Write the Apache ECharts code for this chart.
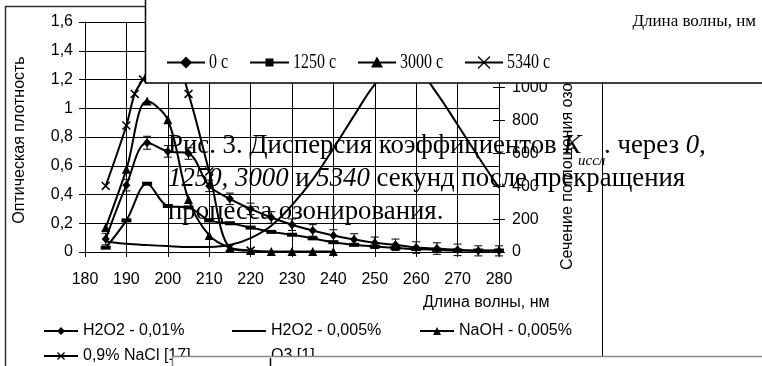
<!DOCTYPE html>
<html><head><meta charset="utf-8">
<script src="https://cdn.jsdelivr.net/npm/echarts@6/dist/echarts.min.js"></script>
<style>html,body{margin:0;padding:0;background:#fff}#c{width:762px;height:366px}</style>
</head><body><div id="c"></div>
<script>
// ---- tick labels ----
const leftTickLabels = ['0','0,2','0,4','0,6','0,8','1','1,2','1,4','1,6'];
const rightTickLabels = ['0','200','400','600','800','1000','1200','1400'];
const xTickLabels = ['180','190','200','210','220','230','240','250','260','270','280'];

// ---- series: H2O2 - 0,01% (with error bars) ----
const wlH2O2a = [185,190,195,200,205,210,215,220,225,230,235,240,245,250,255,260,265,270,275,280];
const valH2O2a = [0.09,0.465,0.76,0.70,0.685,0.46,0.37,0.30,0.24,0.19,0.15,0.115,0.087,0.064,0.05,0.031,0.024,0.015,0.008,0.008];
const errH2O2a = [0.04,0.04,0.045,0.04,0.04,0.04,0.04,0.04,0.04,0.04,0.04,0.04,0.04,0.04,0.04,0.04,0.04,0.04,0.035,0.035];

// ---- series: H2O2 - 0,005% ----
const wlH2O2b = [185,190,195,200,205,210,215,220,225,230,235,240,245,250,255,260,265,270,275,280];
const valH2O2b = [0.03,0.22,0.475,0.32,0.31,0.22,0.20,0.17,0.14,0.12,0.095,0.068,0.05,0.038,0.028,0.02,0.015,0.01,0.01,0.01];

// ---- series: NaOH - 0,005% ----
const wlNaOH = [185,190,195,200,205,210,215,220,225,230,235,240];
const valNaOH = [0.17,0.575,1.05,0.92,0.365,0.115,0.03,0.01,0.004,0.004,0.004,0.004];

// ---- series: 0,9% NaCl [17] ----
const wlNaCl = [185,190,192,194,200,205,210,215,220];
const valNaCl = [0.46,0.88,1.10,1.20,1.50,1.10,0.56,0.03,0.01];

// ---- series: O3 [1] (right axis) ----
const wlO3 = [185,190,195,200,205,210,215,220,225,230,235,240,245,250,255,260,265,270,275,280];
const valO3 = [64,50,42,36,31,31,42,85,160,285,440,630,830,1020,1140,1120,965,775,580,390];

const zip = (xs, ys) => xs.map((x, i) => [x, ys[i]]);
const FS = '"Liberation Sans", Arial, sans-serif';
const SERIF = '"Liberation Serif", "Times New Roman", serif';
const BLK = '#000';
const CAP = 26.8;

const chart = echarts.init(document.getElementById('c'), null, {renderer: 'canvas'});

const lineBase = (name, data, extra) => Object.assign({
  name, type: 'line', data, smooth: 0.35,
  lineStyle: {color: BLK, width: 2}, itemStyle: {color: BLK},
  emphasis: {disabled: true}, z: 5
}, extra);

const xMark = 'path://M0,1.2L1.2,0L10,8.8L8.8,10Z M8.8,0L10,1.2L1.2,10L0,8.8Z';

// overlay legend (top box) items
function topLegendItem(x1, x2, label, marker) {
  const cy = 62.5, cx = (x1 + x2) / 2;
  const els = [{type: 'line', z: 101, shape: {x1, y1: cy, x2, y2: cy}, style: {stroke: BLK, lineWidth: 2}}];
  if (marker === 'diamond') els.push({type: 'polygon', z: 102, shape: {points: [[cx, cy-6],[cx+6, cy],[cx, cy+6],[cx-6, cy]]}, style: {fill: BLK}});
  if (marker === 'square') els.push({type: 'rect', z: 102, shape: {x: cx-4, y: cy-4, width: 8, height: 8}, style: {fill: BLK}});
  if (marker === 'triangle') els.push({type: 'polygon', z: 102, shape: {points: [[cx, cy-6],[cx+6, cy+5],[cx-6, cy+5]]}, style: {fill: BLK}});
  if (marker === 'x') {
    els.push({type: 'line', z: 102, shape: {x1: cx-6, y1: cy-6, x2: cx+6, y2: cy+6}, style: {stroke: BLK, lineWidth: 1.2}});
    els.push({type: 'line', z: 102, shape: {x1: cx+6, y1: cy-6, x2: cx-6, y2: cy+6}, style: {stroke: BLK, lineWidth: 1.2}});
  }
  els.push({type: 'text', z: 102, x: x2 + 4, y: cy, scaleX: 0.8,
    style: {text: label, x: 0, y: 0, fill: BLK, font: '20px ' + SERIF, align: 'left', verticalAlign: 'middle'}});
  return els;
}

const richCap = {n: {fontSize: CAP, fontFamily: SERIF, fill: BLK}, i: {fontSize: CAP, fontFamily: SERIF, fontStyle: 'italic', fill: BLK}};

const graphics = [
  // outer frame of the figure
  {type: 'polyline', z: 50, shape: {points: [[5.5, 370],[5.5, 6.5],[146, 6.5]]}, style: {stroke: '#333', lineWidth: 1.5, fill: 'none'}},
  {type: 'line', z: 50, shape: {x1: 602.5, y1: 83, x2: 602.5, y2: 356}, style: {stroke: BLK, lineWidth: 1}},
  // axis titles
  {type: 'text', z: 10, x: 19.5, y: 140, rotation: Math.PI / 2,
    style: {text: 'Оптическая плотность', x: 0, y: 0, fill: BLK, font: '16px ' + FS, align: 'center', verticalAlign: 'middle'}},
  {type: 'text', z: 10, x: 568, y: 270, rotation: Math.PI / 2,
    style: {text: 'Сечение поглощения озона, 10^-20 см2', x: 0, y: 0, fill: BLK, font: '16px ' + FS, align: 'left', verticalAlign: 'middle'}},
  {type: 'text', z: 10, x: 423, y: 303,
    style: {text: 'Длина волны, нм', x: 0, y: 0, fill: BLK, font: '16px ' + FS, align: 'left', verticalAlign: 'middle'}},
  // caption
  {type: 'text', z: 60, x: 168, y: 145.5,
    style: {text: '{n|Рис. 3. Дисперсия коэффициентов }{i|K}', x: 0, y: 0, fill: BLK, align: 'left', verticalAlign: 'middle', rich: richCap}},
  {type: 'text', z: 60, x: 578, y: 161,
    style: {text: 'иссл', x: 0, y: 0, fill: BLK, font: 'italic 15px ' + SERIF, align: 'left', verticalAlign: 'middle'}},
  {type: 'text', z: 60, x: 604, y: 145.5,
    style: {text: '{n|. через }{i|0,}', x: 0, y: 0, fill: BLK, align: 'left', verticalAlign: 'middle', rich: richCap}},
  {type: 'text', z: 60, x: 168, y: 178.5,
    style: {text: '{i|1250, 3000}{n| и }{i|5340}{n| секунд после прекращения}', x: 0, y: 0, fill: BLK, align: 'left', verticalAlign: 'middle', rich: richCap}},
  {type: 'text', z: 60, x: 168, y: 211.5,
    style: {text: 'процесса озонирования.', x: 0, y: 0, fill: BLK, font: CAP + 'px ' + SERIF, align: 'left', verticalAlign: 'middle'}},
  // top overlay box
  {type: 'rect', z: 100, shape: {x: 145.5, y: -5, width: 640, height: 88}, style: {fill: '#fff', stroke: BLK, lineWidth: 1.5}},
  {type: 'text', z: 102, x: 756, y: 22, style: {text: 'Длина волны, нм', x: 0, y: 0, fill: BLK, font: '17px ' + SERIF, align: 'right', verticalAlign: 'middle'}},
  ...topLegendItem(167, 205, '0 c', 'diamond'),
  ...topLegendItem(250, 289, '1250 c', 'square'),
  ...topLegendItem(358, 396, '3000 c', 'triangle'),
  ...topLegendItem(465, 503, '5340 c', 'x'),
  // bottom overlay box
  {type: 'rect', z: 100, shape: {x: 172.5, y: 356.5, width: 620, height: 20}, style: {fill: '#fff', stroke: '#888', lineWidth: 1.5}},
  {type: 'line', z: 101, shape: {x1: 270.5, y1: 358, x2: 270.5, y2: 366}, style: {stroke: BLK, lineWidth: 1.5}}
];

const legendText = {fontSize: 16, fontFamily: FS, color: BLK, width: 140, lineHeight: 18};

const option = {
  animation: false,
  backgroundColor: '#fff',
  grid: {left: 85, right: 263, top: 22, bottom: 114, containLabel: false, outerBoundsMode: 'none'},
  xAxis: {
    type: 'value', min: 180, max: 280, interval: 10,
    axisLine: {show: true, lineStyle: {color: BLK, width: 1}},
    axisTick: {show: true, length: 5, lineStyle: {color: BLK}},
    splitLine: {show: true, lineStyle: {color: BLK, width: 1}},
    axisLabel: {formatter: (v, i) => xTickLabels[i], fontSize: 16, fontFamily: FS, color: BLK, margin: 20}
  },
  yAxis: [
    {type: 'value', min: 0, max: 1.6, interval: 0.2,
      axisLine: {show: true, lineStyle: {color: BLK, width: 1}},
      axisTick: {show: true, length: 6, lineStyle: {color: BLK}},
      splitLine: {show: true, lineStyle: {color: BLK, width: 1}},
      axisLabel: {formatter: (v, i) => leftTickLabels[i], fontSize: 16, fontFamily: FS, color: BLK, margin: 12}},
    {type: 'value', position: 'right', min: 0, max: 1400, interval: 200,
      axisLine: {show: true, lineStyle: {color: BLK, width: 1}},
      axisTick: {show: true, length: 6, lineStyle: {color: BLK}},
      splitLine: {show: false},
      axisLabel: {formatter: (v, i) => rightTickLabels[i], fontSize: 16, fontFamily: FS, color: BLK, margin: 13}},
    {type: 'value', position: 'right', min: 0, max: 1400, interval: 200,
      axisLine: {show: false}, axisLabel: {show: false}, splitLine: {show: false},
      axisTick: {show: true, inside: true, length: 6, lineStyle: {color: BLK}}}
  ],
  legend: [
    {data: ['H2O2 - 0,01%', {name: 'H2O2 - 0,005%', itemStyle: {opacity: 0}}, 'NaOH - 0,005%'], left: 43, top: 322, orient: 'horizontal',
      itemWidth: 34, itemHeight: 10, itemGap: 8, padding: 0, selectedMode: false, textStyle: legendText},
    {data: ['0,9% NaCl [17]', {name: 'O3 [1]', itemStyle: {opacity: 0}, lineStyle: {opacity: 0}}], left: 43, top: 347, orient: 'horizontal',
      itemWidth: 34, itemHeight: 10, itemGap: 8, padding: 0, selectedMode: false, textStyle: legendText}
  ],
  series: [
    {name: 'errbars', type: 'custom', z: 4, silent: true,
      data: wlH2O2a.map((x, i) => [x, valH2O2a[i], errH2O2a[i]]),
      encode: {x: 0, y: 1},
      renderItem: (params, api) => {
        const x = api.value(0), y = api.value(1), e = api.value(2);
        const t = api.coord([x, y + e]), b = api.coord([x, y - e]);
        const st = {stroke: BLK, lineWidth: 1};
        return {type: 'group', children: [
          {type: 'line', shape: {x1: t[0], y1: t[1], x2: b[0], y2: b[1]}, style: st},
          {type: 'line', shape: {x1: t[0] - 4, y1: t[1], x2: t[0] + 4, y2: t[1]}, style: st},
          {type: 'line', shape: {x1: b[0] - 4, y1: b[1], x2: b[0] + 4, y2: b[1]}, style: st}
        ]};
      }},
    lineBase('H2O2 - 0,01%', zip(wlH2O2a, valH2O2a), {symbol: 'diamond', symbolSize: [8, 9]}),
    lineBase('H2O2 - 0,005%', zip(wlH2O2b, valH2O2b), {symbol: 'rect', symbolSize: [10, 4]}),
    lineBase('NaOH - 0,005%', zip(wlNaOH, valNaOH), {symbol: 'triangle', symbolSize: 9}),
    lineBase('0,9% NaCl [17]', zip(wlNaCl, valNaCl), {symbol: xMark, symbolSize: 9}),
    lineBase('O3 [1]', zip(wlO3, valO3), {symbol: 'none', yAxisIndex: 1})
  ],
  graphic: graphics
};
chart.setOption(option);
</script>
</body></html>
